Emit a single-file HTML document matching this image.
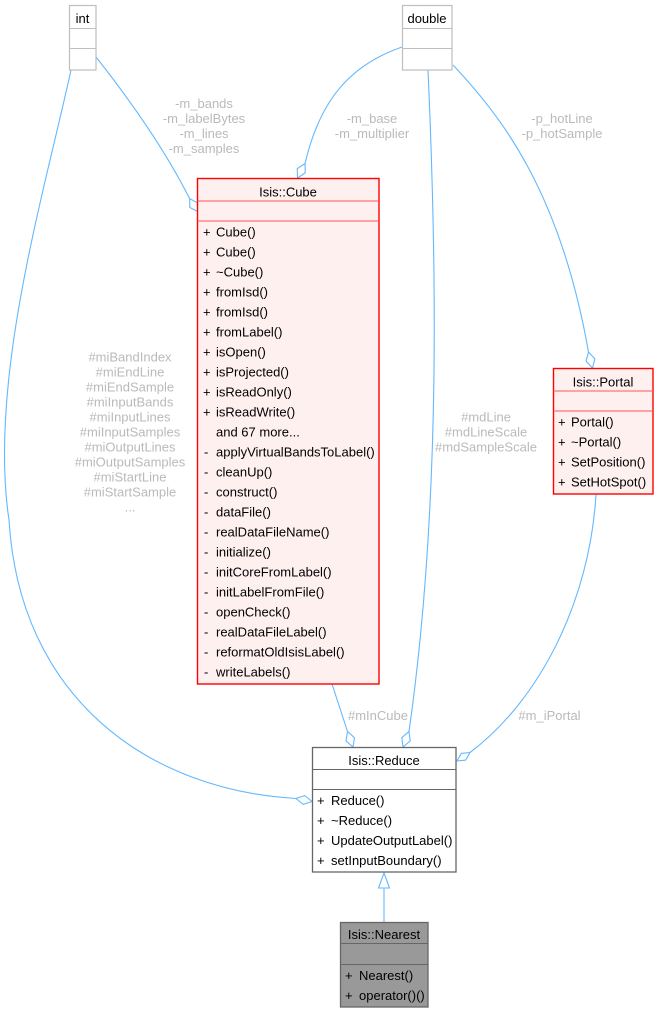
<!DOCTYPE html>
<html>
<head>
<meta charset="utf-8">
<style>
html,body{margin:0;padding:0;background:#fff;}
svg{display:block;}
text{font-family:"Liberation Sans",Arial,sans-serif;}
.m{font-size:13px;fill:#000;}
.t{font-size:13px;fill:#000;text-anchor:middle;}
.l{font-size:13px;fill:#bababa;text-anchor:middle;}
.e{fill:none;stroke:#63b8ff;stroke-width:1.1;}
.d{fill:#fff;stroke:#63b8ff;stroke-width:1.1;}
</style>
</head>
<body>
<svg width="659" height="1012" viewBox="0 0 659 1012" xmlns="http://www.w3.org/2000/svg">
<!-- edges -->
<path class="e" d="M96,57 C130,100 165,150 189.7,198.7"/>
<polygon class="d" points="197.5,211.5 197.45,202.8 189.7,198.7 189.75,207.4"/>

<path class="e" d="M402,47 C350,65 320,100 305,163.5"/>
<polygon class="d" points="297.5,178 305.25,172.8 305,163.5 297.25,168.7"/>

<path class="e" d="M71,70 C45,190 -12,380 9,520 C20,700 150,790 296,798.5"/>
<polygon class="d" points="312,801.5 303.2,804.4 296,798.5 304.8,795.6"/>

<path class="e" d="M332,684 L347.5,731.5"/>
<polygon class="d" points="353,747 354.5,737.75 347.5,731.5 346,741"/>

<path class="e" d="M428,70 C436,250 442,500 409,731.5"/>
<polygon class="d" points="403,747 410.2,740.9 409,731.5 401.8,737.6"/>

<path class="e" d="M596,494 C590,600 540,700 470,752.5"/>
<polygon class="d" points="457,761 465.7,760.1 470,752.5 461.3,753.4"/>

<path class="e" d="M453,65 C500,115 560,190 588.5,352"/>
<polygon class="d" points="592.5,368 594.9,358.9 588.5,352 586.1,361.1"/>

<path class="e" d="M384,888 L384,922"/>
<polygon class="d" points="384,873 389.5,888 378.5,888"/>

<!-- edge labels -->
<text class="l" x="204" y="108">-m_bands</text>
<text class="l" x="204" y="123">-m_labelBytes</text>
<text class="l" x="204" y="138">-m_lines</text>
<text class="l" x="204" y="153">-m_samples</text>

<text class="l" x="372" y="123">-m_base</text>
<text class="l" x="372" y="138">-m_multiplier</text>

<text class="l" x="562" y="123">-p_hotLine</text>
<text class="l" x="562" y="138">-p_hotSample</text>

<text class="l" x="130" y="361.5">#miBandIndex</text>
<text class="l" x="130" y="376.5">#miEndLine</text>
<text class="l" x="130" y="391.5">#miEndSample</text>
<text class="l" x="130" y="406.5">#miInputBands</text>
<text class="l" x="130" y="421.5">#miInputLines</text>
<text class="l" x="130" y="436.5">#miInputSamples</text>
<text class="l" x="130" y="451.5">#miOutputLines</text>
<text class="l" x="130" y="466.5">#miOutputSamples</text>
<text class="l" x="130" y="481.5">#miStartLine</text>
<text class="l" x="130" y="496.5">#miStartSample</text>
<text class="l" x="130" y="511.5">...</text>

<text class="l" x="486" y="421.5">#mdLine</text>
<text class="l" x="486" y="436.5">#mdLineScale</text>
<text class="l" x="486" y="451.5">#mdSampleScale</text>

<text class="l" x="378" y="720">#mInCube</text>
<text class="l" x="549.5" y="720">#m_iPortal</text>

<!-- int -->
<rect x="69.5" y="5.5" width="26.5" height="64.5" fill="#fff" stroke="#bfbfbf" stroke-width="1.2"/>
<line x1="69.5" y1="28.5" x2="96" y2="28.5" stroke="#bfbfbf"/>
<line x1="69.5" y1="48.5" x2="96" y2="48.5" stroke="#bfbfbf"/>
<text class="t" x="82.5" y="23">int</text>

<!-- double -->
<rect x="402.5" y="5.5" width="49.5" height="64.5" fill="#fff" stroke="#bfbfbf" stroke-width="1.2"/>
<line x1="402.5" y1="28.5" x2="452" y2="28.5" stroke="#bfbfbf"/>
<line x1="402.5" y1="48.5" x2="452" y2="48.5" stroke="#bfbfbf"/>
<text class="t" x="427" y="23">double</text>

<!-- Cube -->
<rect x="197.5" y="178.5" width="181.5" height="505.5" fill="#fff0f0" stroke="#ff0000" stroke-width="1.4"/>
<line x1="197.5" y1="201" x2="379" y2="201" stroke="#ff5555"/>
<line x1="197.5" y1="221" x2="379" y2="221" stroke="#ff5555"/>
<text class="t" x="288" y="196.5">Isis::Cube</text>
<g class="m">
<text x="203" y="236.5">+</text><text x="216" y="236.5">Cube()</text>
<text x="203" y="256.5">+</text><text x="216" y="256.5">Cube()</text>
<text x="203" y="276.5">+</text><text x="216" y="276.5">~Cube()</text>
<text x="203" y="296.5">+</text><text x="216" y="296.5">fromIsd()</text>
<text x="203" y="316.5">+</text><text x="216" y="316.5">fromIsd()</text>
<text x="203" y="336.5">+</text><text x="216" y="336.5">fromLabel()</text>
<text x="203" y="356.5">+</text><text x="216" y="356.5">isOpen()</text>
<text x="203" y="376.5">+</text><text x="216" y="376.5">isProjected()</text>
<text x="203" y="396.5">+</text><text x="216" y="396.5">isReadOnly()</text>
<text x="203" y="416.5">+</text><text x="216" y="416.5">isReadWrite()</text>
<text x="216" y="436.5">and 67 more...</text>
<text x="204" y="456.5">-</text><text x="216" y="456.5">applyVirtualBandsToLabel()</text>
<text x="204" y="476.5">-</text><text x="216" y="476.5">cleanUp()</text>
<text x="204" y="496.5">-</text><text x="216" y="496.5">construct()</text>
<text x="204" y="516.5">-</text><text x="216" y="516.5">dataFile()</text>
<text x="204" y="536.5">-</text><text x="216" y="536.5">realDataFileName()</text>
<text x="204" y="556.5">-</text><text x="216" y="556.5">initialize()</text>
<text x="204" y="576.5">-</text><text x="216" y="576.5">initCoreFromLabel()</text>
<text x="204" y="596.5">-</text><text x="216" y="596.5">initLabelFromFile()</text>
<text x="204" y="616.5">-</text><text x="216" y="616.5">openCheck()</text>
<text x="204" y="636.5">-</text><text x="216" y="636.5">realDataFileLabel()</text>
<text x="204" y="656.5">-</text><text x="216" y="656.5">reformatOldIsisLabel()</text>
<text x="204" y="676.5">-</text><text x="216" y="676.5">writeLabels()</text>
</g>

<!-- Portal -->
<rect x="553.5" y="368.5" width="99.5" height="125.5" fill="#fff0f0" stroke="#ff0000" stroke-width="1.4"/>
<line x1="553.5" y1="391" x2="653" y2="391" stroke="#ff5555"/>
<line x1="553.5" y1="411" x2="653" y2="411" stroke="#ff5555"/>
<text class="t" x="603" y="386.5">Isis::Portal</text>
<g class="m">
<text x="558" y="426.5">+</text><text x="571" y="426.5">Portal()</text>
<text x="558" y="446.5">+</text><text x="571" y="446.5">~Portal()</text>
<text x="558" y="466.5">+</text><text x="571" y="466.5">SetPosition()</text>
<text x="558" y="486.5">+</text><text x="571" y="486.5">SetHotSpot()</text>
</g>

<!-- Reduce -->
<rect x="312.5" y="747.5" width="143.5" height="124.5" fill="#fff" stroke="#666666" stroke-width="1.3"/>
<line x1="312.5" y1="769.5" x2="456" y2="769.5" stroke="#666666"/>
<line x1="312.5" y1="789.5" x2="456" y2="789.5" stroke="#666666"/>
<text class="t" x="384" y="765">Isis::Reduce</text>
<g class="m">
<text x="317" y="805">+</text><text x="331" y="805">Reduce()</text>
<text x="317" y="825">+</text><text x="331" y="825">~Reduce()</text>
<text x="317" y="845">+</text><text x="331" y="845">UpdateOutputLabel()</text>
<text x="317" y="865">+</text><text x="331" y="865">setInputBoundary()</text>
</g>

<!-- Nearest -->
<rect x="340.5" y="922.5" width="87.5" height="84.5" fill="#999999" stroke="#666666" stroke-width="1.3"/>
<line x1="340.5" y1="943.5" x2="428" y2="943.5" stroke="#666666"/>
<line x1="340.5" y1="964.5" x2="428" y2="964.5" stroke="#666666"/>
<text class="t" x="384" y="939">Isis::Nearest</text>
<g class="m">
<text x="345" y="980">+</text><text x="359" y="980">Nearest()</text>
<text x="345" y="1000">+</text><text x="359" y="1000">operator()()</text>
</g>
</svg>
</body>
</html>
